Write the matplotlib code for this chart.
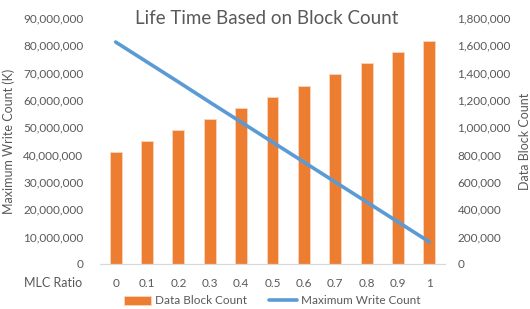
import matplotlib.pyplot as plt
import numpy as np
from matplotlib.ticker import FuncFormatter

plt.rcParams['font.family'] = ['Lato', 'DejaVu Sans']

mlc_ratio = ['0', '0.1', '0.2', '0.3', '0.4', '0.5', '0.6', '0.7', '0.8', '0.9', '1']
data_block_count = [817000, 898000, 980000, 1061000, 1143000, 1225000,
                    1306000, 1388000, 1470000, 1551000, 1633000]
max_write_count = [81.2e6, 73.9e6, 66.6e6, 59.2e6, 51.9e6, 44.6e6,
                   37.3e6, 30.0e6, 22.7e6, 15.4e6, 8.1e6]

gray = '#595959'
orange = '#ED7D31'
blue = '#5B9BD5'

fig = plt.figure(figsize=(5.3, 3.09), dpi=100)
ax = fig.add_axes([100/530, 1 - 264/309, 345/530, 246/309])
ax2 = ax.twinx()

x = np.arange(len(mlc_ratio))

bars = ax2.bar(x, data_block_count, width=0.38, color=orange,
               edgecolor='#F9D5BE', linewidth=0.6, label='Data Block Count')
line, = ax.plot(x, max_write_count, color=blue, linewidth=2.6,
                solid_capstyle='round', label='Maximum Write Count')

# line above the bars
ax.set_zorder(ax2.get_zorder() + 1)
ax.patch.set_visible(False)

ax.set_xlim(-0.5, len(x) - 0.5)
ax.set_ylim(0, 90e6)
ax2.set_ylim(0, 1.8e6)
ax.set_yticks(np.arange(0, 90e6 + 1, 10e6))
ax2.set_yticks(np.arange(0, 1.8e6 + 1, 200000))

fmt = FuncFormatter(lambda v, p: f'{int(round(v)):,}')
ax.yaxis.set_major_formatter(fmt)
ax2.yaxis.set_major_formatter(fmt)

ax.set_xticks(x)
ax.set_xticklabels(mlc_ratio)

for a in (ax, ax2):
    for s in a.spines.values():
        s.set_visible(False)
    a.tick_params(length=0, labelsize=8.5, colors=gray)
ax.spines['bottom'].set_visible(True)
ax.spines['bottom'].set_color('#D9D9D9')
ax.spines['bottom'].set_linewidth(0.9)
ax.tick_params(axis='y', pad=12)
ax.tick_params(axis='x', pad=10)
ax2.tick_params(axis='y', pad=9)

ax.set_ylabel('Maximum Write Count (K)', fontsize=9, color=gray, labelpad=6)
ax2.set_ylabel('Data Block Count', fontsize=9, color=gray, rotation=90, labelpad=6)

fig.text(82/530, 1 - 283/309, 'MLC Ratio', ha='right', va='center',
         fontsize=9, color=gray)
fig.text(267/530, 1 - 19/309, 'Life Time Based on Block Count', ha='center',
         va='center', fontsize=13.5, color=gray)

leg = fig.legend([bars, line], ['Data Block Count', 'Maximum Write Count'],
                 loc='center', bbox_to_anchor=(272/530, 1 - 301/309), ncol=2,
                 frameon=False, fontsize=8.5, handlelength=2.3,
                 handletextpad=0.35, columnspacing=1.9, borderpad=0)
for t in leg.get_texts():
    t.set_color(gray)

fig.savefig('out.png', dpi=100)
